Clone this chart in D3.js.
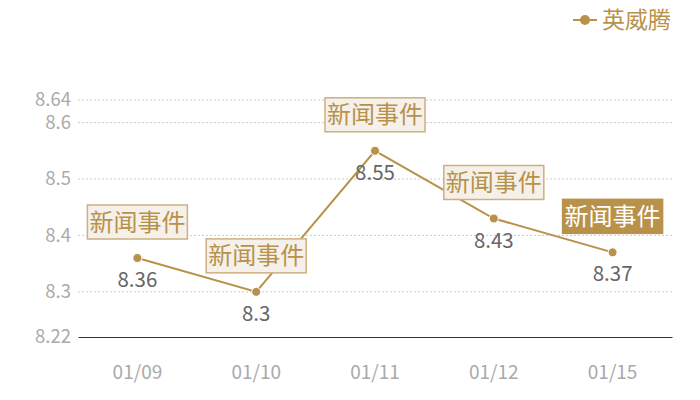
<!DOCTYPE html>
<html>
<head>
<meta charset="utf-8">
<script src="https://cdn.jsdelivr.net/npm/d3@7"></script>
<style>
  body { margin: 0; background: #fff; }
  svg { font-family: "Noto Sans CJK SC", "Noto Sans", sans-serif; }
</style>
</head>
<body>
<svg id="chart" width="700" height="400"></svg>
<script>
const categories = ['01/09', '01/10', '01/11', '01/12', '01/15'];
const values = [8.36, 8.3, 8.55, 8.43, 8.37];
const notes = ['新闻事件', '新闻事件', '新闻事件', '新闻事件', '新闻事件'];
const yTicks = [8.22, 8.3, 8.4, 8.5, 8.6, 8.64];
const seriesName = '英威腾';

const gold = '#b8924a';
const svg = d3.select('#chart');
const margin = { top: 100, right: 28, bottom: 63, left: 78 };
const width = +svg.attr('width');
const height = +svg.attr('height');

const x = d3.scaleBand()
  .domain(categories)
  .range([margin.left, width - margin.right]);

const y = d3.scaleLinear()
  .domain([8.22, 8.64])
  .range([height - margin.bottom, margin.top]);

// grid lines
svg.append('g')
  .selectAll('line')
  .data(yTicks.filter(t => t !== 8.22))
  .join('line')
  .attr('x1', margin.left)
  .attr('x2', width - margin.right)
  .attr('y1', d => y(d))
  .attr('y2', d => y(d))
  .attr('stroke', '#ccc')
  .attr('stroke-dasharray', '2,2');

// y axis labels
const yAxis = svg.append('g')
  .attr('transform', `translate(${margin.left},0)`)
  .call(d3.axisLeft(y).tickValues(yTicks).tickSize(0).tickPadding(7).tickFormat(d3.format('')));
yAxis.select('.domain').remove();
yAxis.selectAll('text')
  .attr('fill', '#aaa')
  .style('font-size', '18.5px')
  .style('font-family', '"Noto Sans CJK SC", sans-serif');

// x axis
const xAxis = svg.append('g')
  .attr('transform', `translate(0,${height - margin.bottom})`)
  .call(d3.axisBottom(x).tickSize(0).tickPadding(29));
xAxis.select('.domain').attr('stroke', '#333');
xAxis.selectAll('text')
  .attr('fill', '#aaa')
  .style('font-size', '19px')
  .style('font-family', '"Noto Sans CJK SC", sans-serif');

const cx = d => x(d) + x.bandwidth() / 2;
const pts = categories.map((c, i) => ({ c, v: values[i], note: notes[i], i }));

// line
svg.append('path')
  .datum(pts)
  .attr('fill', 'none')
  .attr('stroke', gold)
  .attr('stroke-width', 2)
  .attr('d', d3.line().x(d => cx(d.c)).y(d => y(d.v)));

// points
svg.append('g')
  .selectAll('circle')
  .data(pts)
  .join('circle')
  .attr('cx', d => cx(d.c))
  .attr('cy', d => y(d.v))
  .attr('r', 4.5)
  .attr('fill', gold)
  .attr('stroke', '#fff')
  .attr('stroke-width', 1);

// value labels
svg.append('g')
  .selectAll('text')
  .data(pts)
  .join('text')
  .attr('x', d => cx(d.c))
  .attr('y', d => y(d.v) + 29)
  .attr('text-anchor', 'middle')
  .attr('fill', '#666')
  .style('font-size', '20.5px')
  .text(d => d.v);

// annotation boxes
const last = pts.length - 1;
const note = svg.append('g')
  .selectAll('g')
  .data(pts)
  .join('g')
  .attr('transform', d => `translate(${cx(d.c)},${y(d.v) - 36})`);

note.append('rect')
  .attr('x', -50)
  .attr('y', -17)
  .attr('width', 100)
  .attr('height', 34)
  .attr('fill', d => d.i === last ? gold : '#f5f0ea')
  .attr('stroke', d => d.i === last ? gold : '#cdb07e')
  .attr('stroke-width', 1.5);

note.append('text')
  .attr('text-anchor', 'middle')
  .attr('dy', '0.36em')
  .attr('fill', d => d.i === last ? '#fff' : gold)
  .style('font-size', '24px')
  .text(d => d.note);

// legend
const legend = svg.append('g').attr('transform', 'translate(585,20)');
legend.append('line')
  .attr('x1', -12).attr('x2', 12)
  .attr('stroke', gold).attr('stroke-width', 2);
legend.append('circle')
  .attr('r', 5).attr('fill', gold);
legend.append('text')
  .attr('x', 17)
  .attr('dy', '0.36em')
  .attr('fill', gold)
  .style('font-size', '23px')
  .text(seriesName);
</script>
</body>
</html>
